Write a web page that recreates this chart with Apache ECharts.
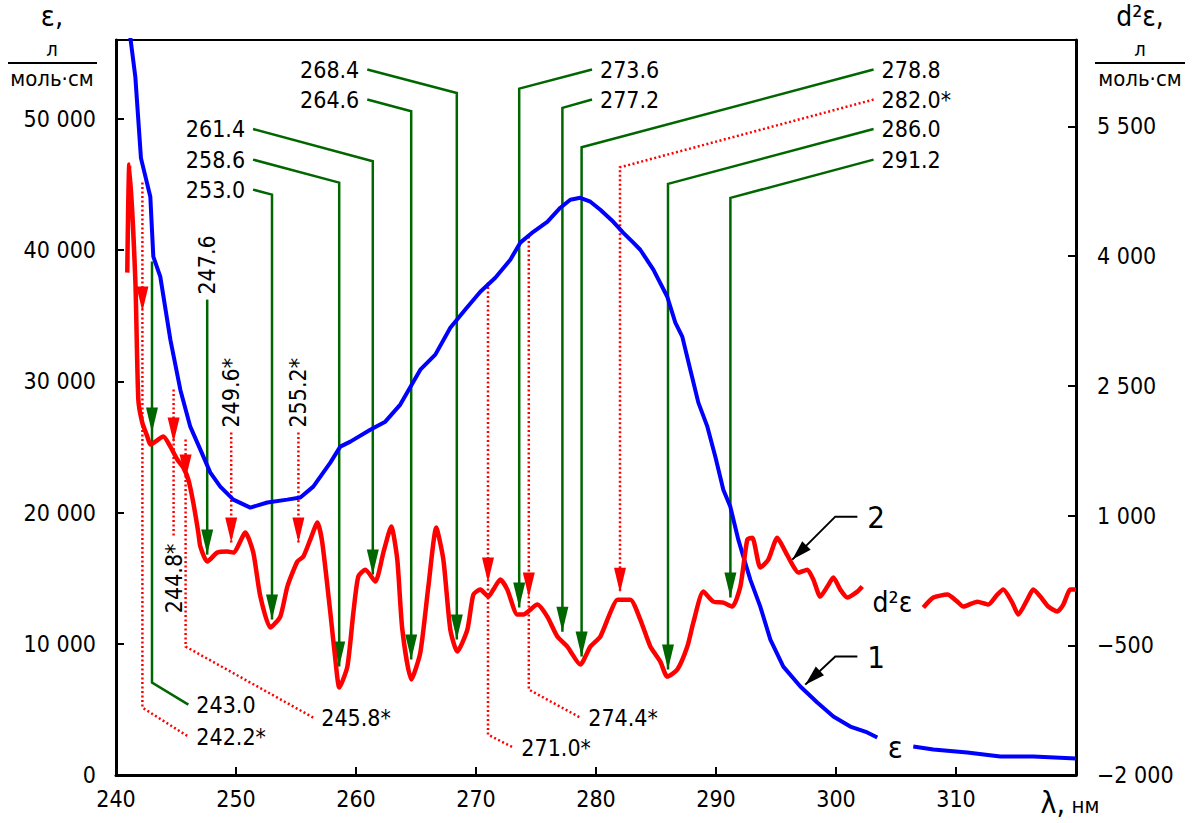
<!DOCTYPE html>
<html>
<head>
<meta charset="utf-8">
<script src="https://cdn.jsdelivr.net/npm/echarts@6/dist/echarts.min.js"></script>
<style>
  html, body { margin: 0; padding: 0; background: #fff; }
  #chart { width: 1197px; height: 823px; }
</style>
</head>
<body>
<div id="chart"></div>
<script>
// UV absorption spectrum ε(λ) (curve 1) and its second derivative d²ε (curve 2)
const FONT = '"DejaVu Sans Condensed", "DejaVu Sans", sans-serif';

// curve 1: molar absorptivity, л/(моль·см)
const epsWavelength = [
  241.15, 241.61, 242.08, 242.86, 243.11, 243.69, 244.53, 245.36, 246.19, 247.03,
  247.86, 248.69, 249.78, 251.19, 252.61, 254.27, 255.36, 256.44, 257.86, 258.69,
  259.53, 261.19, 262.44, 263.69, 265.36, 266.61, 267.86, 269.11, 270.36, 271.61,
  272.86, 273.69, 274.78, 275.94, 277.03, 277.86, 278.69, 279.53, 280.36, 281.44,
  282.28, 283.11, 283.69, 284.78, 285.94, 286.61, 287.19, 287.86, 288.53, 289.28,
  289.94, 290.61, 291.19, 291.86, 292.28, 292.86, 293.69, 294.53, 295.61, 297.03,
  298.44, 299.78, 301.19, 302.61, 303.44, null, 306.44, 308.11, 310.94, 313.69,
  316.44, 320.0
];
const epsValue = [
  56500, 53200, 47000, 44060, 39490, 37970, 33170, 29360, 26540, 24790,
  23040, 21970, 20980, 20370, 20760, 20980, 21140, 21970, 23800, 25020,
  25400, 26310, 26920, 28220, 30880, 32030, 34080, 35460, 36820, 37890,
  39260, 40560, 41390, 42150, 43220, 43830, 43980, 43680, 43070, 42150,
  41310, 40560, 40020, 38500, 36440, 34460, 33400, 30880, 28370, 26540,
  24260, 21740, 20450, 17930, 16640, 14890, 12830, 10320, 8260, 6740,
  5520, 4460, 3690, 3240, 2860, null, 2170, 1940, 1710, 1410,
  1410, 1260
];

// curve 2: second derivative d²ε
const d2Wavelength = [
  240.94, 241.11, 241.61, 241.86, 242.19, 242.61, 242.86, 243.28, 243.94, 244.53,
  245.11, 245.61, 246.03, 246.44, 246.86, 247.03, 247.61, 248.44, 249.28, 249.78,
  250.78, 251.44, 252.03, 252.86, 253.69, 254.28, 255.11, 255.61, 256.19, 256.78,
  257.19, 257.86, 258.28, 258.61, 259.28, 259.78, 260.19, 260.78, 261.61, 262.28,
  262.94, 263.44, 263.86, 264.61, 265.36, 266.03, 266.69, 267.28, 267.86, 268.44,
  269.28, 269.78, 270.36, 271.03, 271.44, 272.03, 272.61, 273.44, 273.94, 275.11,
  275.94, 276.78, 277.61, 278.69, 279.53, 280.36, 281.19, 281.78, 282.86, 283.69,
  284.53, 285.36, 285.94, 286.78, 287.61, 288.11, 288.94, 289.78, 290.61, 291.36,
  292.03, 292.61, 293.03, 293.69, 294.36, 295.11, 295.78, 296.36, 296.86, 297.61,
  298.11, 298.69, 299.28, 299.78, 300.36, 300.94, 301.78, 302.19, null, 307.28,
  308.11, 309.28, 310.11, 310.61, 311.78, 312.69, 313.44, 313.94, 314.69, 315.19,
  315.94, 316.44, 317.03, 317.69, 318.44, 318.94, 319.53, 320.0
];
const d2Value = [
  3810, 5059, 3729, 2342, 2075, 1914, 1821, 1856, 1914, 1798,
  1648, 1555, 1416, 1150, 803, 641, 468, 572, 584, 572,
  803, 572, 63, -295, -168, 179, 468, 526, 722, 919,
  688, -122, -665, -989, -746, -122, 294, 375, 237, 572,
  873, 491, -318, -897, -584, 179, 861, 491, -318, -573,
  -318, 86, 144, 63, 144, 260, 144, -145, -145, -29,
  -168, -399, -515, -723, -515, -399, -122, 28, 28, -203,
  -515, -689, -862, -781, -515, -238, 121, 5, -7, -52,
  179, 722, 745, 399, 491, 745, 584, 433, 341, 375,
  260, 63, 179, 283, 144, 52, 121, 179, null, -64,
  52, 86, 5, -52, 5, -29, 86, 144, -7, -145,
  28, 144, 63, -52, -110, -29, 144, 144
];

// band positions found on the d²ε curve, nm (* = shoulder)
const bandsMain = [243.0, 247.6, 253.0, 258.6, 261.4, 264.6, 268.4, 273.6, 277.2, 278.8, 286.0, 291.2];
const bandsShoulder = [242.2, 244.8, 245.8, 249.6, 255.2, 271.0, 274.4, 282.0];

// callout geometry in axis units (λ, d²ε)
const calloutLayout = {
  '243.0': { top: 3937, tip: 1960, bend: -931, lead: [246.03, -1186] },
  '247.6': { top: 3498, tip: 549, rotate: 'up' },
  '253.0': { tip: -203, bend: 4712, lead: [251.42, 4770] },
  '258.6': { tip: -746, bend: 4851, lead: [251.42, 5117] },
  '261.4': { tip: 318, bend: 5097, lead: [251.42, 5470] },
  '264.6': { tip: -665, bend: 5676, lead: [260.94, 5811] },
  '268.4': { tip: -434, bend: 5888, lead: [260.94, 6158] },
  '273.6': { tip: -64, bend: 5938, lead: [279.67, 6158] },
  '277.2': { tip: -342, bend: 5715, lead: [279.67, 5811] },
  '278.8': { tip: -631, bend: 5259, lead: [303.13, 6158] },
  '286.0': { tip: -781, bend: 4836, lead: [303.13, 5470] },
  '291.2': { tip: 52, bend: 4674, lead: [303.13, 5117] },
  '242.2': { top: 4851, tip: 3359, bend: -1221, lead: [246.03, -1556] },
  '244.8': { top: 2457, tip: 1844, bottom: 757, rotate: 'down' },
  '245.8': { top: 1879, tip: 1416, bend: -515, lead: [256.44, -1336] },
  '249.6': { top: 1960, tip: 688, rotate: 'up' },
  '255.2': { top: 1960, tip: 688, rotate: 'up' },
  '271.0': { top: 3695, tip: 225, bend: -1533, lead: [273.11, -1683] },
  '274.4': { top: 4227, tip: 52, bend: -1012, lead: [278.69, -1336] },
  '282.0': { tip: 109, bend: 5028, lead: [303.13, 5811] }
};

// curve number pointers and curve names
const curvePointers = [
  { text: '2', from: [301.78, 988], knee: [299.94, 988], tip: [296.36, 491] },
  { text: '1', from: [301.78, -631], knee: [299.94, -631], tip: [297.44, -955] }
];
const curveTags = [
  { text: 'd\u00B2\u03B5', at: [304.7, -10], size: 28 },
  { text: '\u03B5', at: [304.94, -1672], size: 31 }
];

const callouts = bandsMain.map(v => Object.assign({ at: v, star: false }, calloutLayout[v.toFixed(1)]))
  .concat(bandsShoulder.map(v => Object.assign({ at: v, star: true }, calloutLayout[v.toFixed(1)])));

const zip = (xs, ys) => xs.map((x, i) => (x === null ? ['-', '-'] : [x, ys[i]]));

function groupThousands(v) {
  const s = String(Math.abs(v)).replace(/\B(?=(\d{3})+(?!\d))/g, ' ');
  return (v < 0 ? '\u2212' : '') + s;
}

function arrowHead(tip, from, len, half, color) {
  const dx = tip[0] - from[0], dy = tip[1] - from[1];
  const d = Math.hypot(dx, dy) || 1;
  const ux = dx / d, uy = dy / d;
  const bx = tip[0] - ux * len, by = tip[1] - uy * len;
  return {
    type: 'polygon',
    shape: { points: [tip, [bx - uy * half, by + ux * half], [bx + uy * half, by - ux * half]] },
    style: { fill: color, stroke: null }
  };
}

function renderCallout(params, api) {
  const c = callouts[params.dataIndex];
  const color = c.star ? '#ff0000' : '#006600';
  const P = (l, v) => api.coord([l, v]);
  const tip = P(c.at, c.tip);
  let pts, pos, align, rotation = 0;
  if (c.rotate === 'up') {
    const a = P(c.at, c.top);
    pts = [a, tip];
    pos = [a[0], a[1] - 5]; align = 'left'; rotation = Math.PI / 2;
  } else if (c.rotate === 'down') {
    const a = P(c.at, c.top), b = P(c.at, c.bottom);
    pts = [a, b];
    pos = [b[0], b[1] + 7]; align = 'right'; rotation = Math.PI / 2;
  } else {
    const e = P(c.lead[0], c.lead[1]);
    pts = c.top != null
      ? [P(c.at, c.top), P(c.at, c.bend), e]
      : [e, P(c.at, c.bend), tip];
    const right = c.lead[0] > c.at;
    pos = [e[0] + (right ? 8 : -8), e[1]];
    align = right ? 'left' : 'right';
  }
  return {
    type: 'group',
    children: [
      {
        type: 'polyline',
        shape: { points: pts },
        style: {
          stroke: color, fill: 'none',
          lineWidth: 2.5,
          lineDash: c.star ? [2, 2.5] : null
        }
      },
      arrowHead(tip, [tip[0], tip[1] - 30], 25, 6, color),
      {
        type: 'text',
        x: pos[0], y: pos[1], rotation: rotation,
        style: {
          text: c.at.toFixed(1) + (c.star ? '*' : ''),
          fontFamily: FONT, fontSize: 23, fill: '#000',
          align: align, verticalAlign: 'middle'
        }
      }
    ]
  };
}

function renderPointer(params, api) {
  const i = params.dataIndex;
  if (i < curvePointers.length) {
    const p = curvePointers[i];
    const a = api.coord(p.from), k = api.coord(p.knee), t = api.coord(p.tip);
    return {
      type: 'group',
      children: [
        { type: 'polyline', shape: { points: [a, k, t] }, style: { stroke: '#000', fill: 'none', lineWidth: 2 } },
        arrowHead(t, k, 20, 6, '#000'),
        {
          type: 'text', x: a[0] + 10, y: a[1],
          style: { text: p.text, fontFamily: FONT, fontSize: 31, fill: '#000', align: 'left', verticalAlign: 'middle' }
        }
      ]
    };
  }
  const g = curveTags[i - curvePointers.length];
  const c = api.coord(g.at);
  return {
    type: 'text', x: c[0], y: c[1],
    style: { text: g.text, fontFamily: FONT, fontSize: g.size, fill: '#000', align: 'center', verticalAlign: 'middle' }
  };
}

const axisLineStyle = { color: '#000', width: 3 };
const tickStyle = { show: true, inside: true, length: 8, lineStyle: { color: '#000', width: 2 } };

const chart = echarts.init(document.getElementById('chart'), null, { renderer: 'svg' });
chart.setOption({
  animation: false,
  backgroundColor: '#fff',
  grid: {
    left: 116, right: 121, top: 40, bottom: 48,
    show: true, borderColor: '#000', borderWidth: 2,
    containLabel: false, outerBoundsMode: 'none'
  },
  xAxis: {
    type: 'value', min: 240, max: 320, interval: 10,
    axisLine: { lineStyle: axisLineStyle },
    axisTick: tickStyle,
    splitLine: { show: false },
    axisLabel: {
      color: '#000', fontFamily: FONT, fontSize: 23, margin: 12,
      formatter: v => (v === 320 ? '{l|\u03BB,} {u|нм}' : String(v)),
      rich: {
        l: { fontFamily: FONT, fontSize: 30, color: '#000' },
        u: { fontFamily: FONT, fontSize: 22, color: '#000', padding: [6, 12, 0, 0] }
      }
    }
  },
  yAxis: [
    {
      type: 'value', position: 'left', min: 0, max: 56000, interval: 10000,
      axisLine: { show: true, lineStyle: axisLineStyle },
      axisTick: tickStyle,
      splitLine: { show: false },
      axisLabel: {
        color: '#000', fontFamily: FONT, fontSize: 23, margin: 20,
        formatter: v => (v > 50000 ? '' : groupThousands(v))
      }
    },
    {
      type: 'value', position: 'right', min: -2000, max: 6500, interval: 1500,
      axisLine: { show: true, lineStyle: axisLineStyle },
      axisTick: tickStyle,
      splitLine: { show: false },
      axisLabel: {
        color: '#000', fontFamily: FONT, fontSize: 23, margin: 21,
        formatter: v => (v > 5500 ? '' : groupThousands(v))
      }
    }
  ],
  graphic: [
    { type: 'text', x: 52, y: 16, style: { text: '\u03B5,', fontFamily: FONT, fontSize: 29, fill: '#000', align: 'center', verticalAlign: 'middle' } },
    { type: 'text', x: 52, y: 49, style: { text: 'л', fontFamily: FONT, fontSize: 20, fill: '#000', align: 'center', verticalAlign: 'middle' } },
    { type: 'line', shape: { x1: 8, y1: 63, x2: 97, y2: 63 }, style: { stroke: '#000', lineWidth: 2 } },
    { type: 'text', x: 52, y: 78, style: { text: 'моль·см', fontFamily: FONT, fontSize: 22, fill: '#000', align: 'center', verticalAlign: 'middle' } },
    { type: 'text', x: 1140, y: 16, style: { text: 'd\u00B2\u03B5,', fontFamily: FONT, fontSize: 28, fill: '#000', align: 'center', verticalAlign: 'middle' } },
    { type: 'text', x: 1140, y: 49, style: { text: 'л', fontFamily: FONT, fontSize: 20, fill: '#000', align: 'center', verticalAlign: 'middle' } },
    { type: 'line', shape: { x1: 1095, y1: 63, x2: 1185, y2: 63 }, style: { stroke: '#000', lineWidth: 2 } },
    { type: 'text', x: 1140, y: 78, style: { text: 'моль·см', fontFamily: FONT, fontSize: 22, fill: '#000', align: 'center', verticalAlign: 'middle' } }
  ],
  series: [
    {
      type: 'custom', name: 'bands', coordinateSystem: 'cartesian2d',
      xAxisIndex: 0, yAxisIndex: 1, z: 1, silent: true, clip: false,
      data: callouts.map(c => [c.at, c.tip]),
      renderItem: renderCallout
    },
    {
      type: 'line', name: '\u03B5', xAxisIndex: 0, yAxisIndex: 0, z: 2,
      data: zip(epsWavelength, epsValue),
      showSymbol: false, symbol: 'none', connectNulls: false, clip: true,
      lineStyle: { color: '#0000ff', width: 4 }, silent: true
    },
    {
      type: 'line', name: 'd\u00B2\u03B5', xAxisIndex: 0, yAxisIndex: 1, z: 3,
      data: zip(d2Wavelength, d2Value),
      showSymbol: false, symbol: 'none', connectNulls: false, smooth: 0.2, clip: true,
      lineStyle: { color: '#ff0000', width: 4.5 }, silent: true
    },
    {
      type: 'custom', name: 'pointers', coordinateSystem: 'cartesian2d',
      xAxisIndex: 0, yAxisIndex: 1, z: 4, silent: true, clip: false,
      data: curvePointers.map(p => p.tip).concat(curveTags.map(t => t.at)),
      renderItem: renderPointer
    }
  ]
});
</script>
</body>
</html>
